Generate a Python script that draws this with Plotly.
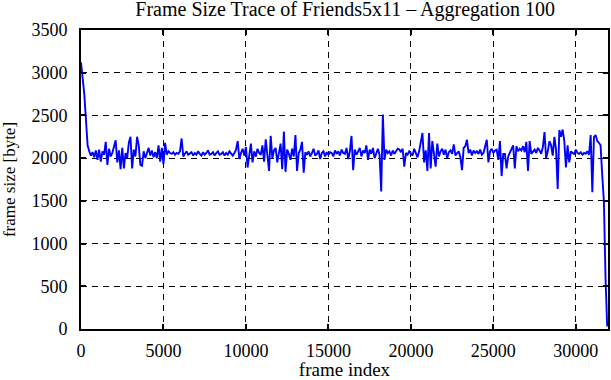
import plotly.graph_objects as go

# frame index step (aggregation of 100 frames)
step = 100
frame_size = [
    3120, 2950, 2750, 2450, 2150, 2080, 2030, 2070, 2010, 2090,
    1980, 2100, 1960, 2080, 2040, 2190, 1920, 2110, 2020, 2060,
    2150, 2210, 1950, 2090, 1870, 2120, 1880, 2060, 2000, 2180,
    2250, 1880, 2100, 2020, 2250, 2150, 1920, 1910, 2080, 2000,
    2060, 2120, 2030, 2090, 2010, 2070, 2000, 2150, 1960, 2120,
    1930, 2180, 2040, 2080, 2060, 2050, 2070, 2040, 2060, 2050,
    2080, 2230, 2020, 2060, 2080, 2040, 2060, 2070, 2030, 2060,
    2040, 2080, 2050, 2030, 2070, 2040, 2060, 2090, 2040, 2050,
    2070, 2030, 2060, 2080, 2040, 2050, 2070, 2030, 2060, 2040,
    2080, 2050, 2030, 2060, 2100, 2200, 1990, 2060, 2110, 2030,
    2130, 1890, 2060, 2170, 1950, 2080, 2020, 2110, 2060, 2040,
    2150, 1960, 2220, 2040, 1850, 2260, 2000, 2090, 2120, 1950,
    2070, 2170, 1870, 2310, 1840, 2100, 2050, 1980, 2110, 2020,
    2270, 1850, 2060, 2100, 2190, 1830, 2070, 2040, 2080, 2020,
    2060, 2110, 2030, 2050, 2090, 1990, 2060, 2080, 2020, 2070,
    2040, 2070, 2060, 2020, 2090, 2050, 2080, 2030, 2100, 2060,
    2050, 2120, 1990, 2080, 2260, 1860, 2100, 2040, 2080, 2120,
    2020, 2090, 2060, 2150, 1980, 2100, 2050, 2120, 2000, 2070,
    2110, 2040, 1610, 2510, 1980, 2100, 2060, 2080, 2030, 2090,
    2050, 2080, 2110, 2100, 2070, 2110, 1900, 2060, 2040, 2080,
    2050, 2030, 2110, 2060, 2010, 2080, 2180, 2295, 1950, 2090,
    1850, 2295, 1880, 2200, 2050, 1900, 2170, 2020, 2080, 2110,
    2040, 2100, 2000, 2070, 2090, 2050, 2160, 2030, 2060, 2080,
    2010, 1860, 2120, 2140, 2215, 2060, 2100, 2030, 2090, 2060,
    2080, 2050, 2100, 2040, 2060, 2150, 2215, 1950, 2080, 2110,
    2060, 2090, 2100, 1980, 2200, 1790, 2050, 2050, 1880, 2020,
    2070, 2120, 2150, 1880, 2140, 2080, 2110, 2090, 2140, 2070,
    2190, 1850, 2200, 2050, 2080, 2100, 2060, 2120, 2090, 2050,
    2130, 2305, 2000, 2080, 2200, 2150, 2030, 2250, 2100, 1640,
    2330, 2250, 2335, 2200, 1890, 2150, 1950, 2080, 2060, 2050,
    2100, 2060, 2050, 2070, 2040, 2060, 2050, 2080, 2040, 2270,
    1600, 2250, 2270, 2200, 2180, 2150, 1800, 1500, 600, 30,
]
frame_index = [i * step for i in range(len(frame_size))]

x_ticks = [0, 5000, 10000, 15000, 20000, 25000, 30000]
y_ticks = [0, 500, 1000, 1500, 2000, 2500, 3000, 3500]

title_text = "Frame Size Trace of Friends5x11 \u2013 Aggregation 100"
x_title = "frame index"
y_title = "frame size [byte]"

font_family = "Liberation Serif, Times New Roman, serif"

fig = go.Figure()
fig.add_trace(go.Scatter(
    x=frame_index, y=frame_size, mode="lines",
    line=dict(color="#0000ff", width=1.9),
    showlegend=False,
))

axis_common = dict(
    showline=True, linecolor="black", linewidth=2, mirror="allticks",
    ticks="inside", ticklen=5, tickwidth=1.5, tickcolor="black",
    showgrid=True, gridcolor="black", gridwidth=1, griddash="6px,5px",
    zeroline=False, automargin=False,
    tickfont=dict(family=font_family, size=18, color="black"),
)

fig.update_layout(
    width=611, height=380,
    margin=dict(l=81, r=3, t=30, b=51),
    paper_bgcolor="white", plot_bgcolor="white",
    font=dict(family=font_family, size=18, color="black"),
    title=dict(text=title_text, x=0.565, xanchor="center",
               yref="container", y=0.976, yanchor="middle",
               font=dict(family=font_family, size=20, color="black")),
    xaxis=dict(range=[0, 31950], tickvals=x_ticks, ticktext=[str(v) for v in x_ticks],
               ticklabelstandoff=4,
               title=dict(text=x_title, standoff=3, font=dict(family=font_family, size=19)),
               **axis_common),
    yaxis=dict(range=[0, 3500], tickvals=y_ticks, ticktext=[str(v) for v in y_ticks],
               ticklabelstandoff=8,
               title=dict(text=y_title, standoff=12, font=dict(family=font_family, size=17)),
               **axis_common),
)

fig.write_html("out.html", config={"displayModeBar": False},
               post_script="document.body.style.margin='0';")
